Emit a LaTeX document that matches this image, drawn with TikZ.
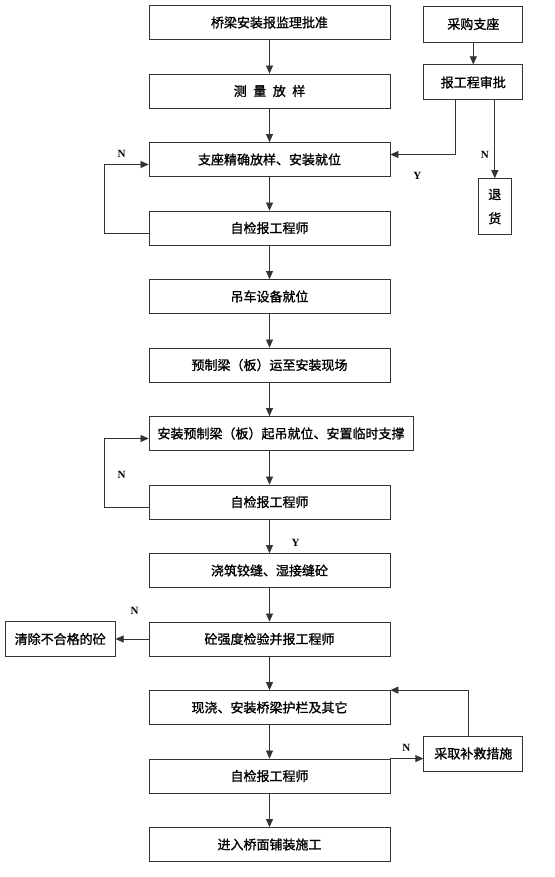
\documentclass[tikz,border=0pt]{standalone}
\usepackage{fontspec}
\setmainfont{Liberation Serif}
\newfontfamily\cjk{Noto Sans CJK SC}[FakeBold=1.2]
\usetikzlibrary{arrows.meta}
\usetikzlibrary{positioning}
\tikzset {
  flow path/.style = {
    draw = black!80,
    line width = 0.7pt
  },
  % path style with an arrow at the end
  arr/.style = {
    flow path,
    -{Triangle[length=8pt,width=7pt]}
  },
  % path style with no arrows
  narr/.style = {
    flow path
  }
}
\tikzset {
  flow node/.style = {
    draw = black!80,
    line width = 0.8pt,
    rectangle,
    inner sep = 0,
    font = \cjk\fontsize{13}{15}\selectfont
  },
  % step of the main column
  stage/.style = {
    flow node,
    minimum width = 241pt,
    minimum height = 34pt
  },
  wide stage/.style = {
    stage,
    minimum width = 264pt
  },
  % boxes beside the main column
  side/.style = {
    flow node,
    minimum width = 99pt,
    minimum height = 35pt
  },
  answer/.style = {
    font = \bfseries\fontsize{11}{13}\selectfont,
    inner sep = 0
  },
  node distance = 33.7pt
}

\begin{document}
\begin{tikzpicture}
    \useasboundingbox (0,0) rectangle (554pt,-877pt);

    \node[stage] (approve) at (269.5pt,-22.5pt) {桥梁安装报监理批准};
    \node[stage] (survey) [below=of approve] {测\enspace 量\enspace 放\enspace 样};
    \node[stage] (bearing) [below=of survey] {支座精确放样、安装就位};
    \node[stage] (check1) [below=of bearing] {自检报工程师};
    \node[stage] (crane) [below=of check1] {吊车设备就位};
    \node[stage] (deliver) [below=of crane] {预制梁（板）运至安装现场};
    \node[wide stage] (lift) [below=of deliver.south west, anchor=north west]
      {安装预制梁（板）起吊就位、安置临时支撑};
    \node[stage] (check2) [below=of lift.south west, anchor=north west] {自检报工程师};
    \node[stage] (pour) [below=of check2] {浇筑铰缝、湿接缝砼};
    \node[stage] (test) [below=of pour] {砼强度检验并报工程师};
    \node[stage] (rail) [below=of test] {现浇、安装桥梁护栏及其它};
    \node[stage] (check3) [below=of rail] {自检报工程师};
    \node[stage] (pave) [below=of check3] {进入桥面铺装施工};

    \node[side, minimum height = 36pt] (buy) [right=33pt of approve, yshift=-1.5pt] {采购支座};
    \node[side] (report) [below=22pt of buy] {报工程审批};
    \coordinate (report-y) at ([xshift=-17.5pt]report.south);
    \coordinate (report-n) at ([xshift=21.5pt]report.south);
    \node[flow node, minimum width = 33pt, minimum height = 56pt, align = center]
      (reject) [below=78pt of report-n] {退\\[9pt]货};
    \node[side, minimum width = 110pt] (remove) [left=33pt of test] {清除不合格的砼};
    \node[side] (remedy) [right=33pt of check3, yshift=22.5pt] {采取补救措施};

    \draw[arr] (approve) -- (survey);
    \draw[arr] (survey) -- (bearing);
    \draw[arr] (bearing) -- (check1);
    \draw[arr] (check1) -- (crane);
    \draw[arr] (crane) -- (deliver);
    \draw[arr] (deliver) -- (deliver |- lift.north);
    \draw[arr] (check2 |- lift.south) -- (check2);
    \draw[arr] (check2) -- (pour);
    \draw[arr] (pour) -- (test);
    \draw[arr] (test) -- (rail);
    \draw[arr] (rail) -- (check3);
    \draw[arr] (check3) -- (pave);

    \draw[arr] (buy) -- (report);
    \draw[arr] (report-y) |- ([yshift=5pt]bearing.east);
    \draw[arr] (report-n) -- (reject);

    \draw[arr] ([yshift=-5pt]check1.west) -- ++(-44pt,0) |- ([yshift=-5pt]bearing.west);
    \draw[arr] ([yshift=-5pt]check2.west) -- ++(-44pt,0) |- ([yshift=-5pt]lift.west);
    \draw[arr] (test) -- (remove);
    \draw[arr] (check3.north east) -- (check3.north east -| remedy.west);
    \draw[arr] ([xshift=-5pt]remedy.north) |- (rail.north east);

    \node[answer] at ([xshift=27pt,yshift=-16pt]bearing.east) {Y};
    \node[answer] at ([xshift=-10pt,yshift=-55pt]report-n) {N};
    \node[answer] at ([xshift=-27pt,yshift=5.5pt]bearing.west) {N};
    \node[answer] at ([xshift=-27pt,yshift=27.5pt]check2.west) {N};
    \node[answer] at ([xshift=26pt,yshift=-23pt]check2.south) {Y};
    \node[answer] at ([xshift=-14pt,yshift=28.5pt]test.west) {N};
    \node[answer] at ([xshift=16pt,yshift=11pt]check3.north east) {N};

  \end{tikzpicture}
\end{document}
